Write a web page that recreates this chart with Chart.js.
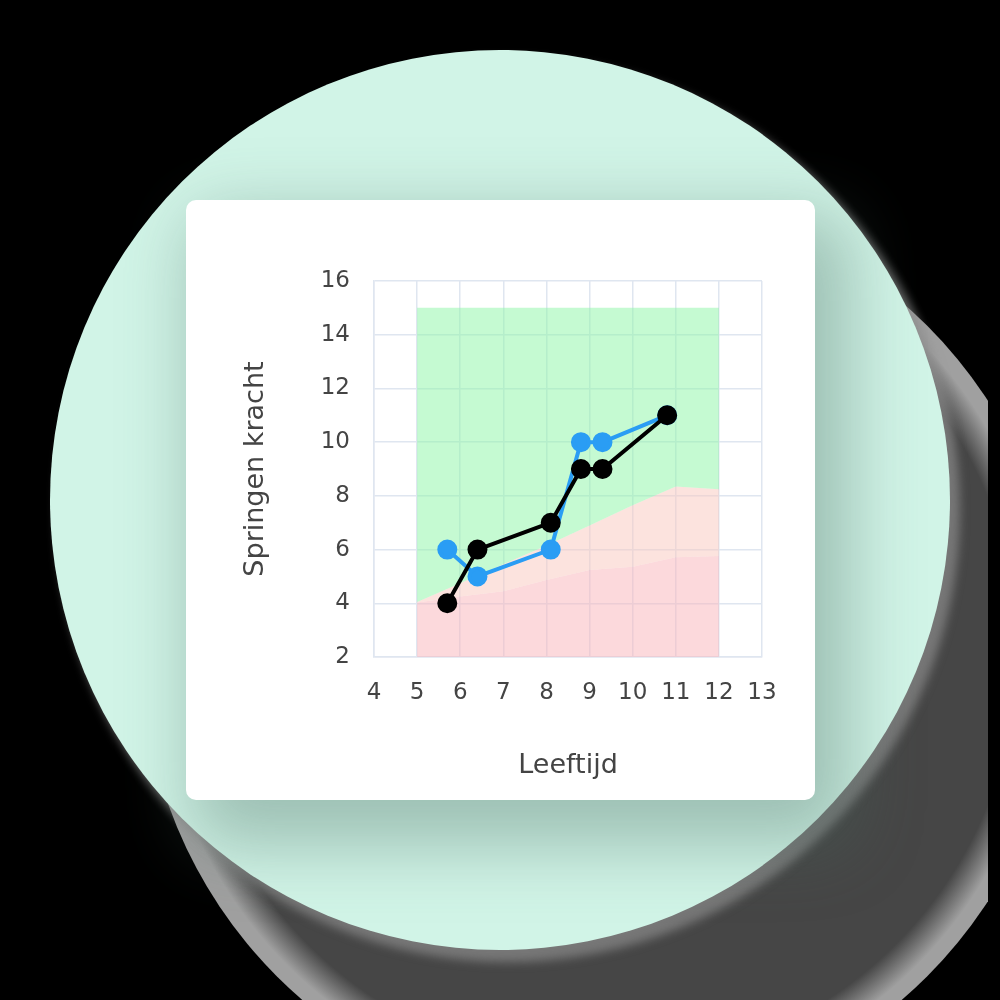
<!DOCTYPE html>
<html>
<head>
<meta charset="utf-8">
<script src="https://cdn.jsdelivr.net/npm/chart.js@4.4.0/dist/chart.umd.min.js"></script>
<style>
  html, body { margin: 0; padding: 0; background: #000; }
  #stage { position: relative; width: 1000px; height: 1000px; overflow: hidden; background: #000; }
  #haloClip { position: absolute; left: 0; top: 0; width: 988px; height: 1000px; overflow: hidden; }
  #halo { position: absolute; left: 142px; top: 191px; width: 920px; height: 920px; border-radius: 50%;
          background: radial-gradient(circle at center, rgb(70,70,70) 0, rgb(70,70,70) 415px, rgb(160,160,160) 445px, rgb(160,160,160) 460px); }
  #circle { position: absolute; left: 50px; top: 50px; width: 900px; height: 900px; border-radius: 50%; background: rgb(209,244,231);
            box-shadow: 8px 10px 10px 2px rgba(140,140,140,0.7); }
  #card { position: absolute; left: 186px; top: 200px; width: 629px; height: 600px; background: #fff; border-radius: 10px;
          box-shadow: 20px 30px 70px 15px rgba(70,105,95,0.38); }
  #chart { position: absolute; left: 0; top: 0; }
</style>
</head>
<body>
<div id="stage">
  <div id="haloClip"><div id="halo"></div></div>
  <div id="circle"></div>
  <div id="card"><canvas id="chart" width="629" height="600"></canvas></div>
</div>
<script>
// measured points (age, score)
const blueAges   = [5.7, 6.4, 8.1, 8.8, 9.3, 10.8];
const blueValues = [6, 5, 6, 10, 10, 11];
const blackAges   = [5.7, 6.4, 8.1, 8.8, 9.3, 10.8];
const blackValues = [4, 6, 7, 9, 9, 11];

// reference bands
const bandAges  = [5, 6, 7, 8, 9, 10, 11, 12];
const greenTop  = [15, 15, 15, 15, 15, 15, 15, 15];
const upperBand = [4.05, 4.75, 5.45, 6.15, 6.9, 7.65, 8.35, 8.25];
const lowerBand = [4.03, 4.25, 4.45, 4.87, 5.24, 5.36, 5.71, 5.76];

const xTicks = [4, 5, 6, 7, 8, 9, 10, 11, 12, 13];
const yTicks = [2, 4, 6, 8, 10, 12, 14, 16];

function pts(xs, ys) {
  return xs.map((x, i) => ({ x: x, y: ys[i] }));
}

const textColor = '#444';
const gridColor = '#dfe6f0';

const ctx = document.getElementById('chart');
new Chart(ctx, {
  type: 'line',
  data: {
    datasets: [
      {
        label: 'zwart',
        data: pts(blackAges, blackValues),
        borderColor: '#000',
        backgroundColor: '#000',
        borderWidth: 4,
        pointRadius: 8,
        pointHoverRadius: 8,
        fill: false
      },
      {
        label: 'blauw',
        data: pts(blueAges, blueValues),
        borderColor: '#2a9df4',
        backgroundColor: '#2a9df4',
        borderWidth: 4,
        pointRadius: 8,
        pointHoverRadius: 8,
        fill: false
      },
      {
        label: 'groen',
        data: pts(bandAges, greenTop),
        borderWidth: 0,
        pointRadius: 0,
        backgroundColor: 'rgba(140,245,165,0.5)',
        fill: '+1'
      },
      {
        label: 'lichtroze',
        data: pts(bandAges, upperBand),
        borderWidth: 0,
        pointRadius: 0,
        backgroundColor: 'rgba(250,200,190,0.5)',
        fill: '+1'
      },
      {
        label: 'roze',
        data: pts(bandAges, lowerBand),
        borderWidth: 0,
        pointRadius: 0,
        backgroundColor: 'rgba(250,180,186,0.5)',
        fill: 'start'
      }
    ]
  },
  options: {
    responsive: false,
    animation: false,
    devicePixelRatio: 1,
    layout: { padding: { left: 54, top: 81, right: 53, bottom: 18 } },
    plugins: {
      legend: { display: false },
      tooltip: { enabled: false }
    },
    scales: {
      x: {
        type: 'linear',
        min: 4,
        max: 13,
        afterBuildTicks: (s) => { s.ticks = xTicks.map(v => ({ value: v })); },
        afterFit: (s) => { s.height = 125; },
        grid: { color: gridColor, lineWidth: 1.5, drawTicks: false },
        border: { color: gridColor, width: 1.5 },
        ticks: { color: textColor, padding: 22, font: { family: 'DejaVu Sans', size: 23 } },
        title: {
          display: true,
          text: 'Leeftijd',
          color: textColor,
          padding: 0,
          font: { family: 'DejaVu Sans', size: 27 }
        }
      },
      y: {
        type: 'linear',
        min: 2,
        max: 16,
        afterBuildTicks: (s) => { s.ticks = yTicks.map(v => ({ value: v })); },
        afterFit: (s) => { s.width = 134; },
        grid: { color: gridColor, lineWidth: 1.5, drawTicks: false },
        border: { color: gridColor, width: 1.5 },
        ticks: { color: textColor, padding: 24, font: { family: 'DejaVu Sans', size: 23 } },
        title: {
          display: true,
          text: 'Springen kracht',
          color: textColor,
          padding: 0,
          font: { family: 'DejaVu Sans', size: 27 }
        }
      }
    }
  }
});
</script>
</body>
</html>
